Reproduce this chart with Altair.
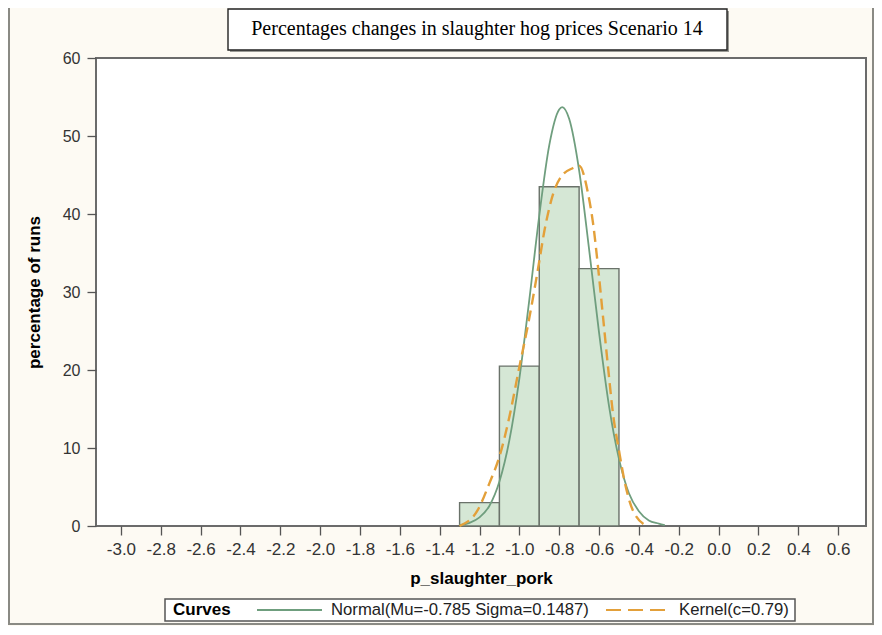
import altair as alt
import pandas as pd

# ---- data ----
bin_start = [-1.3, -1.1, -0.9, -0.7]
bin_end = [-1.1, -0.9, -0.7, -0.5]
bin_pct = [3.0, 20.5, 43.5, 33.0]

normal_x = [-1.30, -1.25, -1.20, -1.15, -1.10, -1.05, -1.00, -0.95, -0.90, -0.85, -0.80, -0.785,
            -0.75, -0.70, -0.65, -0.60, -0.55, -0.50, -0.45, -0.40, -0.35, -0.30, -0.27]
normal_y = [0.1, 0.4, 1.1, 2.6, 5.7, 11.0, 18.9, 29.0, 39.8, 48.8, 53.4, 53.7,
            52.2, 45.6, 35.5, 24.8, 15.4, 8.6, 4.2, 1.9, 0.7, 0.3, 0.1]

kernel_x = [-1.30, -1.21, -1.15, -1.10, -1.05, -1.00, -0.955, -0.91, -0.87, -0.83, -0.79, -0.73,
            -0.70, -0.655, -0.63, -0.605, -0.58, -0.555, -0.53, -0.50, -0.47, -0.43, -0.36]
kernel_y = [0.0, 2.0, 5.5, 8.9, 14.0, 20.4, 26.0, 32.4, 38.4, 42.6, 44.8, 45.9,
            46.2, 42.6, 38.8, 33.2, 26.8, 20.4, 14.4, 9.7, 5.5, 2.0, 0.0]

x_ticks = [round(-3.0 + 0.2 * i, 1) for i in range(19)]
y_ticks = [0, 10, 20, 30, 40, 50, 60]

title_text = "Percentages changes in slaughter hog prices Scenario 14"
x_title = "p_slaughter_pork"
y_title = "percentage of runs"
legend_title = "Curves"
normal_label = "Normal(Mu=-0.785 Sigma=0.1487)"
kernel_label = "Kernel(c=0.79)"

GREEN = "#6f9e7e"
ORANGE = "#e3a03a"
SANS = "Liberation Sans"

bars_df = pd.DataFrame({"start": bin_start, "end": bin_end, "pct": bin_pct})
normal_df = pd.DataFrame({"x": normal_x, "y": normal_y})
kernel_df = pd.DataFrame({"x": kernel_x, "y": kernel_y})
one = pd.DataFrame({"k": [0]})

xscale = alt.Scale(domain=[-3.125, 0.74], nice=False, zero=False)
yscale = alt.Scale(domain=[0, 60], nice=False)

xaxis = alt.Axis(values=x_ticks, title=x_title, labelFontSize=17,
                 labelExpr="(datum.value < -0.001 ? '-' : '') + format(abs(datum.value), '.1f')",
                 labelPadding=6, titleY=52, titleBaseline="middle")
yaxis = alt.Axis(values=y_ticks, title=y_title, labelFontSize=16, labelPadding=7,
                 titleX=-62, titleY=234, titleAngle=270, titleAlign="center",
                 titleBaseline="middle")

frame = alt.Chart(one).mark_rect(fillOpacity=0, stroke="#8a8a84", strokeWidth=2).encode(
    x=alt.value(-87), x2=alt.value(777), y=alt.value(-52), y2=alt.value(566))

bars = alt.Chart(bars_df).mark_rect(fill="#d5e7d5", stroke="#6a726a", strokeWidth=1.4).encode(
    x=alt.X("start:Q", scale=xscale, axis=xaxis),
    x2="end:Q",
    y=alt.Y("pct:Q", scale=yscale, axis=yaxis),
    y2=alt.datum(0),
)

normal = alt.Chart(normal_df).mark_line(color=GREEN, strokeWidth=1.8, interpolate="monotone").encode(
    x=alt.X("x:Q", scale=xscale), y=alt.Y("y:Q", scale=yscale))

kernel = alt.Chart(kernel_df).mark_line(color=ORANGE, strokeWidth=2.4, strokeDash=[11, 6],
                                        interpolate="monotone").encode(
    x=alt.X("x:Q", scale=xscale), y=alt.Y("y:Q", scale=yscale))

# title box
title_shadow = alt.Chart(one).mark_rect(fill="#9a9a94").encode(
    x=alt.value(134), x2=alt.value(633), y=alt.value(-47), y2=alt.value(-6))
title_box = alt.Chart(one).mark_rect(fill="white", stroke="#222", strokeWidth=1.4).encode(
    x=alt.value(132), x2=alt.value(631), y=alt.value(-49), y2=alt.value(-8))
title = alt.Chart(one).mark_text(text=title_text, font="Liberation Serif", fontSize=20,
                                 color="black", align="center", baseline="middle").encode(
    x=alt.value(381), y=alt.value(-29))

# legend
leg_box = alt.Chart(one).mark_rect(fill="white", stroke="#555", strokeWidth=1.5).encode(
    x=alt.value(69), x2=alt.value(699), y=alt.value(541), y2=alt.value(563))
leg_title = alt.Chart(one).mark_text(text=legend_title, font=SANS, fontSize=17, fontWeight="bold",
                                     color="black", align="left", baseline="middle").encode(
    x=alt.value(77), y=alt.value(552))
leg_n_line = alt.Chart(one).mark_rule(color=GREEN, strokeWidth=2).encode(
    x=alt.value(161), x2=alt.value(226), y=alt.value(552))
leg_n_text = alt.Chart(one).mark_text(text=normal_label, font=SANS, fontSize=16.7, color="#222",
                                      align="left", baseline="middle").encode(
    x=alt.value(235), y=alt.value(552))
leg_k_line = alt.Chart(one).mark_rule(color=ORANGE, strokeWidth=2.2, strokeDash=[15, 7]).encode(
    x=alt.value(510), x2=alt.value(569), y=alt.value(552))
leg_k_text = alt.Chart(one).mark_text(text=kernel_label, font=SANS, fontSize=16.7, color="#222",
                                      align="left", baseline="middle").encode(
    x=alt.value(583), y=alt.value(552))

chart = alt.layer(
    frame, bars, normal, kernel, title_shadow, title_box, title,
    leg_box, leg_title, leg_n_line, leg_n_text, leg_k_line, leg_k_text,
).properties(
    width=770, height=468,
    autosize=alt.AutoSizeParams(type="none"),
    padding={"left": 88, "top": 50, "right": 8, "bottom": 100},
    background="#fdfaf3",
).configure_view(
    fill="white", stroke="#6b6b6b", strokeWidth=2,
).configure_axis(
    domain=False, grid=False, tickColor="#555", tickSize=9, tickWidth=1.3,
    labelColor="#333", labelFont=SANS, titleFont=SANS, titleFontSize=17,
    titleFontWeight="bold", titleColor="black",
)

chart.save("out.html", embed_options={"renderer": "svg", "actions": False})
